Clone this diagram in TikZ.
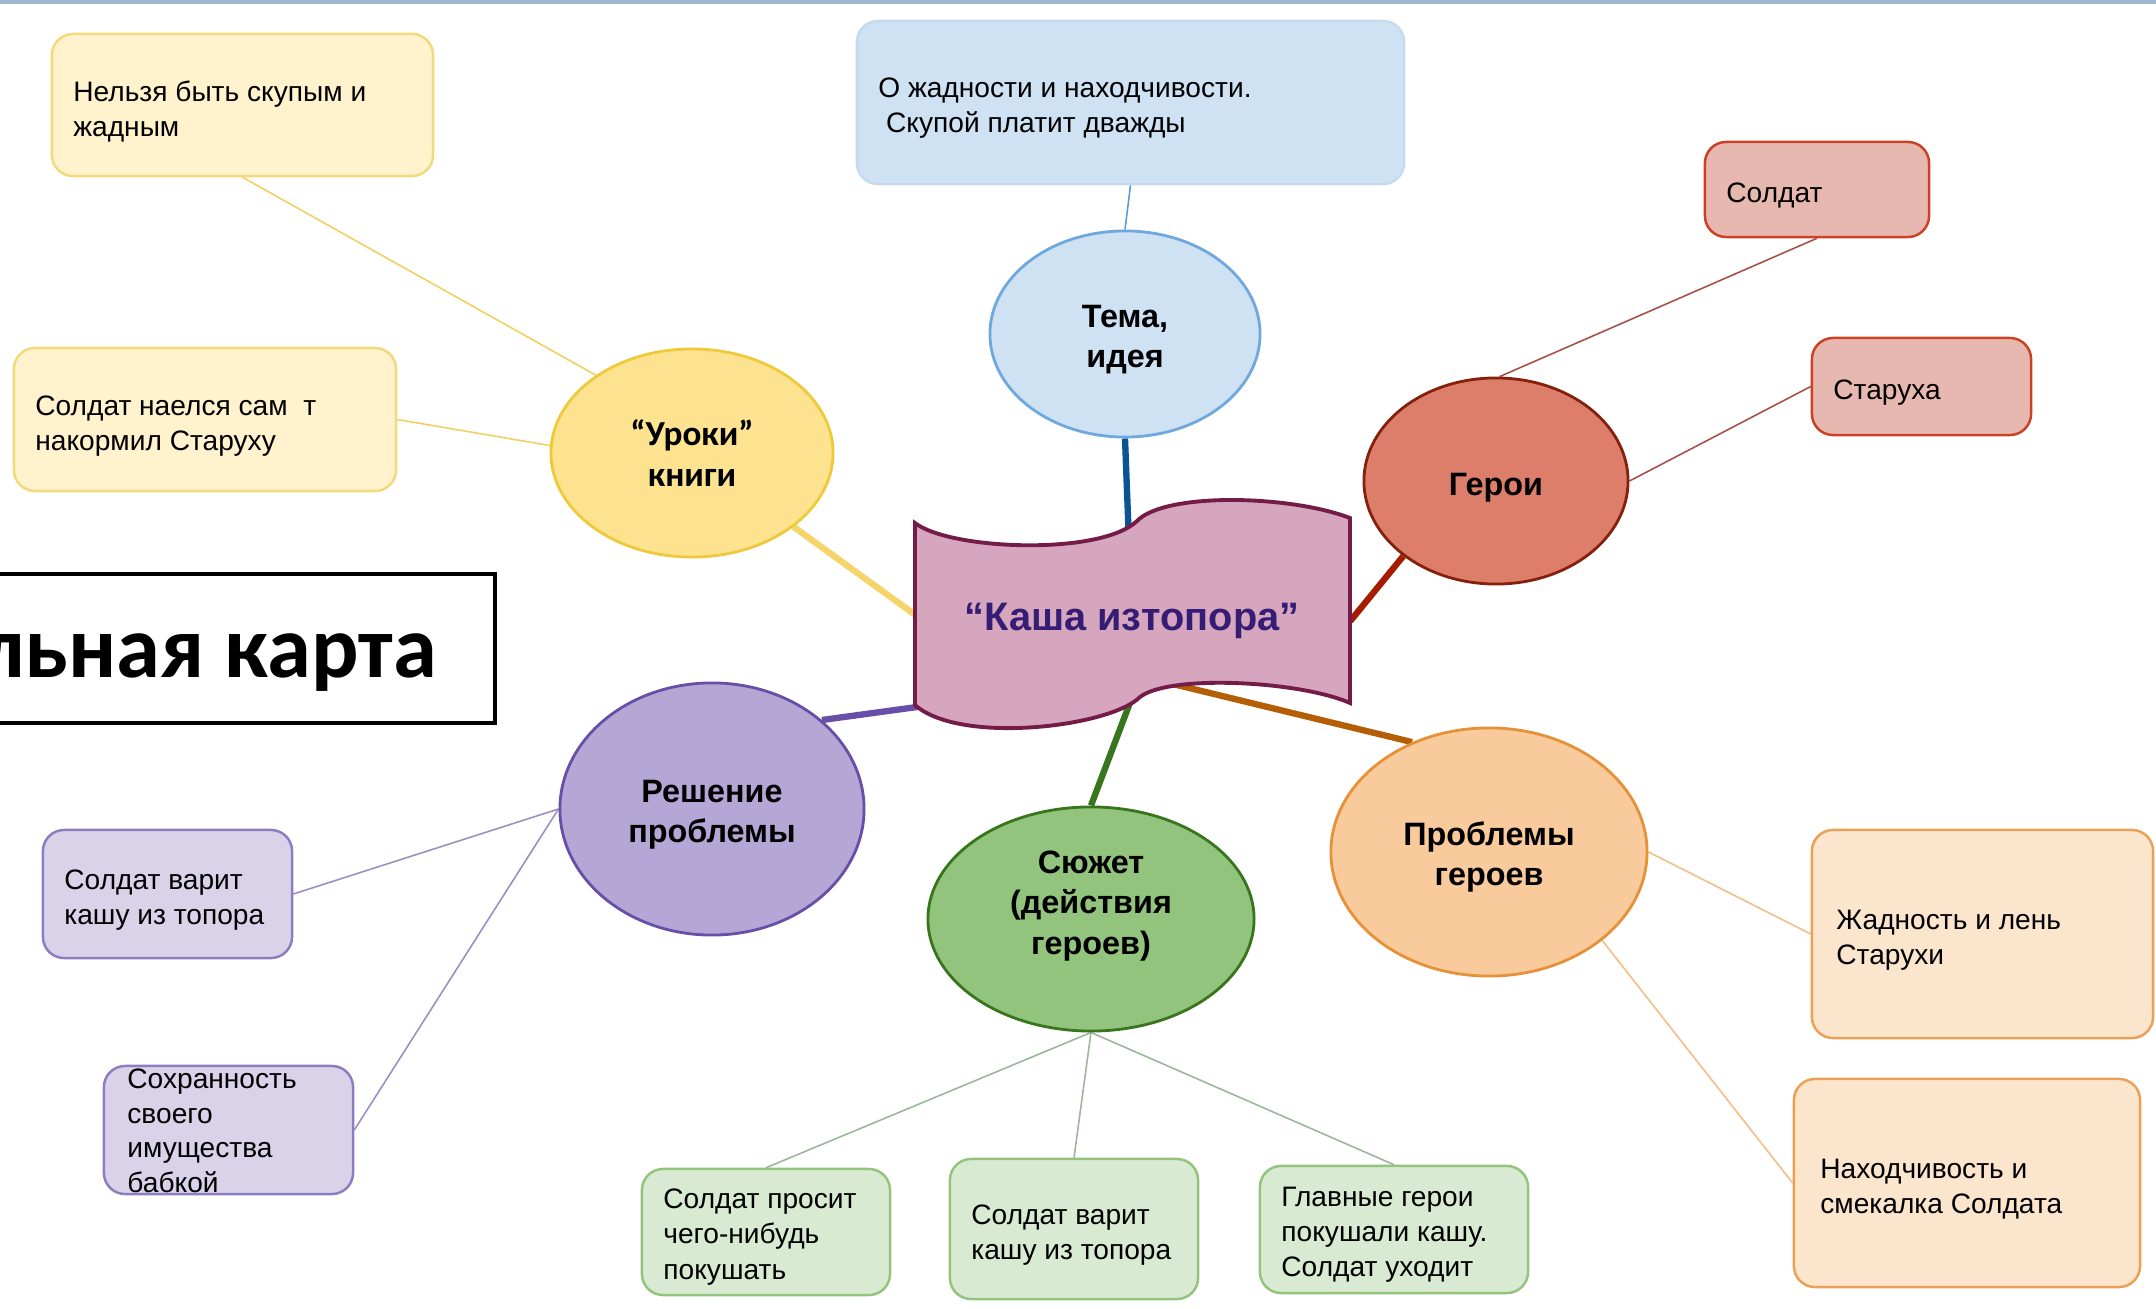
\documentclass[tikz,border=0pt]{standalone}
\usepackage{fontspec}
\setmainfont{Liberation Sans}
\newfontfamily\carlito{Carlito}
\usetikzlibrary{shapes.geometric,backgrounds}
\definecolor{topline}{HTML}{9DB7CF}
\definecolor{yfill}{HTML}{FFF2CC}\definecolor{yline}{HTML}{F3D97A}
\definecolor{yell}{HTML}{FDE38F}\definecolor{yelld}{HTML}{F0C93A}
\definecolor{ythin}{HTML}{F0D060}\definecolor{ythick}{HTML}{F5D46A}
\definecolor{bfill}{HTML}{CFE2F3}\definecolor{bline}{HTML}{C6DAEE}
\definecolor{bell}{HTML}{CFE2F3}\definecolor{belld}{HTML}{6FA8DC}
\definecolor{bthin}{HTML}{5C9BD1}\definecolor{bthick}{HTML}{0B5394}
\definecolor{rfill}{HTML}{E6B8AF}\definecolor{rline}{HTML}{CC4125}
\definecolor{rell}{HTML}{DD7E6B}\definecolor{relld}{HTML}{85200C}
\definecolor{rthin}{HTML}{A6504A}\definecolor{rthick}{HTML}{A61C00}
\definecolor{pfill}{HTML}{D9D2E9}\definecolor{pline}{HTML}{8E7CC3}
\definecolor{pell}{HTML}{B4A7D6}\definecolor{pelld}{HTML}{674EA7}
\definecolor{pthin}{HTML}{9990C0}\definecolor{pthick}{HTML}{674EA7}
\definecolor{gfill}{HTML}{D9EAD3}\definecolor{gline}{HTML}{93C47D}
\definecolor{gell}{HTML}{93C47D}\definecolor{gelld}{HTML}{38761D}
\definecolor{gthin}{HTML}{9DB59A}\definecolor{gthick}{HTML}{38761D}
\definecolor{ofill}{HTML}{FCE5CD}\definecolor{oline}{HTML}{EBA055}
\definecolor{oell}{HTML}{F9CB9C}\definecolor{oelld}{HTML}{E69138}
\definecolor{othin}{HTML}{F3BD87}\definecolor{othick}{HTML}{B45F06}
\definecolor{kfill}{HTML}{D5A6BD}\definecolor{kline}{HTML}{741B47}
\definecolor{ktext}{HTML}{351C75}
\begin{document}
\begin{tikzpicture}[x=0.01cm,y=-0.01cm,
  bx/.style={draw, rounded corners=6pt, line width=0.7pt, inner sep=0pt},
  bt/.style={anchor=west, align=left, inner sep=0pt, font=\fontsize{8pt}{10pt}\selectfont},
  ell/.style={ellipse, draw, line width=0.8pt, inner sep=0pt},
  et/.style={align=center, inner sep=0pt, font=\fontsize{9.2pt}{11.4pt}\selectfont\bfseries},
  thinln/.style={line width=0.45pt},
  thickln/.style={line width=1.8pt}
]
\useasboundingbox (0,0) rectangle (2156,1309);
\fill[topline] (0,0) rectangle (2156,4);

% central wavy banner
\draw[fill=kfill, draw=kline, line width=1.1pt]
  (915,523) .. controls (950,550) and (1100,556) .. (1137,521)
  .. controls (1165,492) and (1290,495) .. (1350,518)
  -- (1350,703)
  .. controls (1300,681) and (1170,674) .. (1140,697)
  .. controls (1110,727) and (960,745) .. (915,705) -- cycle;
\node[minimum width=4.35cm, minimum height=2.2cm, inner sep=0pt, text=ktext,
  font=\fontsize{11.3pt}{13pt}\selectfont\bfseries] (kasha) at (1132,621) {“Каша изтопора”};

% title box
\node[draw, line width=1.1pt, minimum width=5.79cm, minimum height=1.49cm, inner sep=0pt] (title) at (205.5,648.5) {};
\node[anchor=base, inner sep=0pt, font=\carlito\bfseries\fontsize{25.2pt}{28pt}\selectfont] (titletext) at (207.5,677) {льная карта};

% ellipses
\node[ell, fill=yell, draw=yelld, minimum width=2.82cm, minimum height=2.08cm] (uroki) at (692,453) {};
\node[et, font=\carlito\bfseries\fontsize{10pt}{11.4pt}\selectfont] (urokit) at (uroki.center) {“Уроки”\\книги};
\node[ell, fill=bell, draw=belld, minimum width=2.70cm, minimum height=2.06cm] (tema) at (1125,334) {};
\node[et] (temat) at ([yshift=-0.06cm]tema.center) {Тема,\\идея};
\node[ell, fill=rell, draw=relld, minimum width=2.64cm, minimum height=2.06cm] (geroi) at (1496,481) {};
\node[et] (geroit) at ([yshift=-0.065cm]geroi.center) {Герои};
\node[ell, fill=pell, draw=pelld, minimum width=3.04cm, minimum height=2.52cm] (resh) at (712,809) {};
\node[et] (resht) at ([yshift=-0.06cm]resh.center) {Решение\\проблемы};
\node[ell, fill=gell, draw=gelld, minimum width=3.26cm, minimum height=2.24cm] (sujet) at (1091,919) {};
\node[et] (sujett) at ([yshift=0.13cm]sujet.center) {Сюжет\\(действия\\героев)};
\node[ell, fill=oell, draw=oelld, minimum width=3.16cm, minimum height=2.48cm] (prob) at (1489,852) {};
\node[et] (probt) at ([yshift=-0.05cm]prob.center) {Проблемы\\героев};

% boxes
\node[bx, fill=yfill, draw=yline, minimum width=3.81cm, minimum height=1.42cm] (y1) at (242.5,105) {};
\node[bt] (y1t) at ([xshift=0.22cm,yshift=-0.065cm]y1.west) {Нельзя быть скупым и\\жадным};
\node[bx, fill=yfill, draw=yline, minimum width=3.82cm, minimum height=1.43cm] (y2) at (205,419.5) {};
\node[bt] (y2t) at ([xshift=0.22cm,yshift=-0.065cm]y2.west) {Солдат наелся сам\ \ т\\накормил Старуху};
\node[bx, fill=bfill, draw=bline, minimum width=5.47cm, minimum height=1.63cm] (blue) at (1130.5,102.5) {};
\node[bt] (bluet) at ([xshift=0.22cm,yshift=-0.06cm]blue.west) {О жадности и находчивости.\\\ Скупой платит дважды};
\node[bx, fill=rfill, draw=rline, minimum width=2.24cm, minimum height=0.95cm] (soldat) at (1817,189.5) {};
\node[bt] (soldatt) at ([xshift=0.22cm,yshift=-0.06cm]soldat.west) {Солдат};
\node[bx, fill=rfill, draw=rline, minimum width=2.19cm, minimum height=0.97cm] (staruha) at (1921.5,386.5) {};
\node[bt] (staruhat) at ([xshift=0.22cm,yshift=-0.06cm]staruha.west) {Старуха};
\node[bx, fill=pfill, draw=pline, minimum width=2.49cm, minimum height=1.28cm] (pb1) at (167.5,894) {};
\node[bt] (pb1t) at ([xshift=0.22cm,yshift=-0.06cm]pb1.west) {Солдат варит\\кашу из топора};
\node[bx, fill=pfill, draw=pline, minimum width=2.49cm, minimum height=1.28cm] (pb2) at (228.5,1130) {};
\node[bt, font=\fontsize{8pt}{9.8pt}\selectfont] (pb2t) at ([xshift=0.24cm,yshift=-0.01cm]pb2.west) {Сохранность\\своего\\имущества\\бабкой};
\node[bx, fill=gfill, draw=gline, minimum width=2.48cm, minimum height=1.26cm] (g1) at (766,1232) {};
\node[bt] (g1t) at ([xshift=0.22cm,yshift=-0.05cm]g1.west) {Солдат просит\\чего-нибудь\\покушать};
\node[bx, fill=gfill, draw=gline, minimum width=2.48cm, minimum height=1.40cm] (g2) at (1074,1229) {};
\node[bt] (g2t) at ([xshift=0.22cm,yshift=-0.06cm]g2.west) {Солдат варит\\кашу из топора};
\node[bx, fill=gfill, draw=gline, minimum width=2.68cm, minimum height=1.27cm] (g3) at (1394,1229.5) {};
\node[bt] (g3t) at ([xshift=0.22cm,yshift=-0.05cm]g3.west) {Главные герои\\покушали кашу.\\Солдат уходит};
\node[bx, fill=ofill, draw=oline, minimum width=3.41cm, minimum height=2.08cm] (ob1) at (1982.5,934) {};
\node[bt] (ob1t) at ([xshift=0.25cm,yshift=-0.06cm]ob1.west) {Жадность и лень\\Старухи};
\node[bx, fill=ofill, draw=oline, minimum width=3.46cm, minimum height=2.08cm] (ob2) at (1967,1183) {};
\node[bt] (ob2t) at ([xshift=0.27cm,yshift=-0.06cm]ob2.west) {Находчивость и\\смекалка Солдата};

% connectors
\begin{pgfonlayer}{background}
\draw[thinln, ythin] (y1.south) -- (uroki.141);
\draw[thinln, ythin] (y2.east) -- (uroki.177);
\draw[thickln, ythick] (uroki.-36) -- ([xshift=0.1cm,yshift=0.0cm]kasha.west);
\draw[thinln, bthin] (blue.south) -- (tema.north);
\draw[thickln, bthick] (tema.south) -- (kasha.center);
\draw[thinln, rthin] (soldat.south) -- (geroi.88);
\draw[thinln, rthin] (staruha.west) -- (geroi.east);
\draw[thickln, rthick] (geroi.219) -- (kasha.east);
\draw[thinln, pthin] (pb1.east) -- (resh.west);
\draw[thinln, pthin] (pb2.east) -- (resh.west);
\draw[thickln, pthick] (resh.39) -- ([xshift=0.25cm,yshift=-0.83cm]kasha.west);
\draw[thinln, gthin] (sujet.south) -- (g1.north);
\draw[thinln, gthin] (sujet.south) -- (g2.north);
\draw[thinln, gthin] (sujet.south) -- (g3.north);
\draw[thickln, gthick] (sujet.north) -- ([xshift=0.1cm,yshift=-0.5cm]kasha.center);
\draw[thinln, othin] (prob.east) -- (ob1.west);
\draw[thinln, othin] (prob.-38) -- (ob2.west);
\draw[thickln, othick] (prob.125) -- ([xshift=0.08cm,yshift=-0.55cm]kasha.center);
\end{pgfonlayer}
\end{tikzpicture}
\end{document}
